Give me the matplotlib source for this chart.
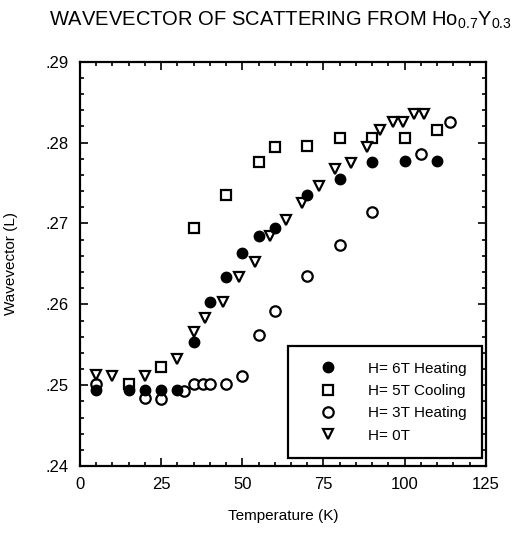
import matplotlib
matplotlib.use("Agg")
import matplotlib.pyplot as plt
from matplotlib.ticker import MultipleLocator, FuncFormatter

# H = 6T heating (filled circles)
t_6T = [5, 15, 20, 25, 30, 35, 40, 45, 50, 55, 60, 70, 80, 90, 100, 110]
l_6T = [.2494, .2494, .2494, .2494, .2494, .2553, .2603, .2634, .2663, .2685, .2695,
        .2735, .2755, .2776, .2777, .2777]

# H = 5T cooling (open squares)
t_5T = [15, 25, 35, 45, 55, 60, 70, 80, 90, 100, 110]
l_5T = [.2502, .2523, .2695, .2735, .2776, .2795, .2796, .2806, .2806, .2806, .2816]

# H = 3T heating (open circles)
t_3T = [5, 20, 25, 32, 35, 38, 40, 45, 50, 55, 60, 70, 80, 90, 105, 114]
l_3T = [.2502, .2484, .2483, .2493, .2502, .2502, .2502, .2502, .2512, .2562, .2592,
        .2635, .2674, .2714, .2786, .2825]

# H = 0T (open triangles)
t_0T = [5, 10, 20, 30, 35, 38.5, 44, 49, 54, 58.5, 63.5, 68.5, 73.5, 78.5, 83.5, 88.5,
        92.5, 96.5, 99.5, 103, 106]
l_0T = [.2513, .2512, .2512, .2532, .2566, .2583, .2603, .2634, .2653, .2685, .2704,
        .2725, .2746, .2767, .2775, .2795, .2816, .2826, .2826, .2835, .2835]

series_labels = ["H= 6T Heating", "H= 5T Cooling", "H= 3T Heating", "H= 0T"]

plt.rcParams['font.family'] = ['Liberation Sans', 'DejaVu Sans']
plt.rcParams['mathtext.fontset'] = 'custom'
plt.rcParams['mathtext.rm'] = 'Liberation Sans'
plt.rcParams['mathtext.it'] = 'Liberation Sans'

fig = plt.figure(figsize=(5.13, 5.37), dpi=100)
ax = fig.add_axes([0.156, 0.132, 0.791, 0.753])

ms = 7.5
mew = 1.6
ax.plot(t_6T, l_6T, 'o', color='black', ms=ms, label=series_labels[0], zorder=3)
ax.plot(t_5T, l_5T, 's', mfc='white', mec='black', mew=mew, ms=ms - 0.5, label=series_labels[1], zorder=2)
ax.plot(t_3T, l_3T, 'o', mfc='white', mec='black', mew=mew, ms=ms, label=series_labels[2], zorder=2)
ax.plot(t_0T, l_0T, 'v', mfc='white', mec='black', mew=mew, ms=ms, label=series_labels[3], zorder=2)

ax.set_xlim(0, 125)
ax.set_ylim(0.24, 0.29)
ax.xaxis.set_major_locator(MultipleLocator(25))
ax.xaxis.set_minor_locator(MultipleLocator(5))
ax.yaxis.set_major_locator(MultipleLocator(0.01))
ax.yaxis.set_minor_locator(MultipleLocator(0.002))
ax.yaxis.set_major_formatter(FuncFormatter(lambda v, p: ("%.2f" % v).lstrip('0')))
ax.tick_params(which='both', direction='in', top=True, right=True, width=1.2)
ax.tick_params(which='major', length=6, labelsize=12, pad=8)
ax.tick_params(which='minor', length=3)
for s in ax.spines.values():
    s.set_linewidth(1.6)

ax.set_xlabel("Temperature (K)", fontsize=11, labelpad=12)
ax.set_ylabel("Wavevector (L)", fontsize=11, labelpad=20)

fig.text(0.546, 0.962, r"WAVEVECTOR OF SCATTERING FROM Ho$_{0.7}$Y$_{0.3}$",
         ha='center', va='center', fontsize=14.5)

leg = ax.legend(loc='lower right', bbox_to_anchor=(0.99, 0.02), fontsize=11,
                frameon=True, fancybox=False, edgecolor='black', framealpha=1,
                handletextpad=1.0, borderpad=1.0, labelspacing=0.55, borderaxespad=0,
                handlelength=3.2)
leg.get_frame().set_linewidth(1.6)

fig.savefig("out.png", dpi=100)
